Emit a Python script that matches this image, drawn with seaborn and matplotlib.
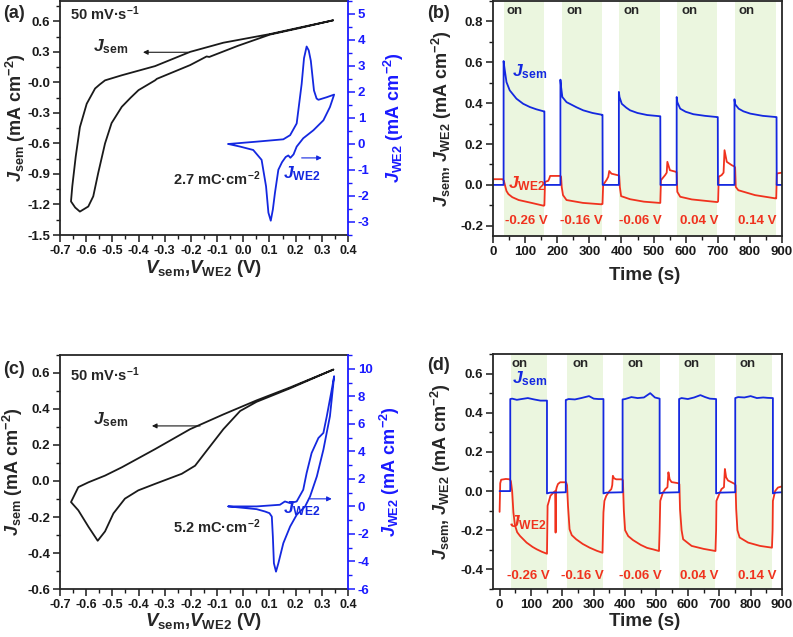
import numpy as np
import matplotlib
matplotlib.use("Agg")
import matplotlib.pyplot as plt
import seaborn as sns
from matplotlib.ticker import MultipleLocator, FormatStrFormatter

# ---------------- data ----------------
# (a) CV of semiconductor electrode and WE2
a_sem_V = [0.343, 0.217, 0.102, -0.076, -0.203, -0.337, -0.464, -0.528, -0.548, -0.566, -0.598, -0.624, -0.640, -0.653,
           -0.658, -0.642, -0.624, -0.592, -0.573, -0.554, -0.528, -0.503, -0.464, -0.430, -0.400, -0.337, -0.330,
           -0.203, -0.140, -0.130, -0.020, 0.102, 0.217, 0.343]
a_sem_J = [0.61, 0.54, 0.475, 0.39, 0.30, 0.16, 0.07, 0.02, -0.02, -0.06, -0.21, -0.44, -0.73, -1.02,
           -1.17, -1.23, -1.27, -1.22, -1.12, -0.89, -0.60, -0.40, -0.24, -0.15, -0.076, 0.02, 0.035,
           0.17, 0.255, 0.25, 0.36, 0.47, 0.535, 0.61]
a_we2_V = [-0.057, 0.051, 0.153, 0.179, 0.204, 0.223, 0.232, 0.242, 0.250, 0.258, 0.270, 0.280, 0.287, 0.319,
           0.347, 0.331, 0.306, 0.268, 0.229, 0.204, 0.192, 0.180, 0.172, 0.162, 0.148, 0.134, 0.121, 0.113,
           0.105, 0.096, 0.087, 0.070, 0.038, -0.012, -0.057]
a_we2_J = [0.0, 0.09, 0.18, 0.34, 0.79, 2.31, 3.3, 3.75, 3.6, 3.2, 2.06, 1.75, 1.70, 1.80,
           1.90, 1.42, 0.91, 0.53, 0.22, -0.10, -0.40, -0.53, -0.44, -0.50, -0.70, -0.99, -1.88, -2.52,
           -2.95, -2.64, -1.63, -0.61, -0.23, -0.10, 0.0]

# (c) CV
c_sem_V = [0.344, 0.179, 0.051, -0.076, -0.203, -0.337, -0.464, -0.528, -0.591, -0.630, -0.658, -0.630, -0.591,
           -0.556, -0.528, -0.496, -0.452, -0.401, -0.337, -0.235, -0.184, -0.140, -0.076, -0.012, 0.051, 0.179, 0.344]
c_sem_J = [0.619, 0.52, 0.448, 0.37, 0.288, 0.177, 0.076, 0.03, -0.007, -0.034, -0.117, -0.163, -0.255,
           -0.332, -0.28, -0.18, -0.098, -0.052, -0.016, 0.04, 0.085, 0.168, 0.288, 0.389, 0.44, 0.515, 0.619]
c_we2_V = [-0.057, 0.051, 0.140, 0.159, 0.179, 0.204, 0.229, 0.242, 0.261, 0.287, 0.306, 0.319, 0.338, 0.347,
           0.331, 0.306, 0.281, 0.255, 0.236, 0.204, 0.179, 0.153, 0.134, 0.125, 0.117, 0.113, 0.109, 0.100,
           0.083, 0.051, -0.057]
c_we2_J = [0.0, 0.0, 0.12, 0.36, 0.24, 0.36, 1.21, 2.43, 3.88, 4.97, 5.34, 6.55, 8.49, 9.46,
           6.55, 4.12, 2.18, 0.72, -0.01, -0.61, -1.46, -2.67, -4.13, -4.74, -4.13, -2.19, -0.74, -0.49,
           -0.37, -0.2, 0.0]

# (b) chronoamperometry
b_sem_t = [0, 33, 33, 35, 42, 52, 73, 94, 115, 135, 158, 160, 160.5, 210, 210, 212, 216, 229, 239, 260, 281, 310,
           340, 341, 341.5, 392, 392, 394, 401, 415, 427, 450, 480, 520, 521, 521.5, 572, 572, 574, 583, 600, 624,
           660, 698, 700, 700.5, 752, 752, 754, 765, 780, 801, 840, 882, 883, 883.5, 900]
b_sem_J = [0, 0, 0.606, 0.58, 0.503, 0.463, 0.422, 0.397, 0.381, 0.37, 0.36, 0.36, 0, 0, 0.515, 0.48, 0.43, 0.405,
           0.397, 0.38, 0.365, 0.352, 0.343, 0.343, 0, 0, 0.455, 0.43, 0.397, 0.378, 0.365, 0.352, 0.342, 0.336,
           0.336, 0, 0, 0.43, 0.405, 0.373, 0.358, 0.346, 0.338, 0.332, 0.332, 0, 0, 0.419, 0.395, 0.373, 0.36,
           0.349, 0.338, 0.332, 0.332, 0, 0]
b_we2_t = [0, 30, 34, 37, 42, 48, 60, 80, 120, 158, 160, 162, 172, 175, 178, 210, 212, 214, 218, 229, 280, 338,
           341, 343, 354, 359, 362, 369, 390, 393, 395, 399, 427, 470, 518, 521, 523, 536, 541, 543, 551, 570,
           572, 574, 583, 619, 692, 699, 701, 703, 712, 718, 721, 728, 744, 752, 754, 756, 764, 816, 880,
           882, 884, 900]
b_we2_J = [0.028, 0.028, 0.02, 0.0, -0.03, -0.045, -0.06, -0.074, -0.088, -0.102, -0.1, 0.015, 0.02, 0.03, 0.044,
           0.044, 0.04, -0.01, -0.05, -0.074, -0.088, -0.095, -0.093, 0.0, 0.025, 0.04, 0.068, 0.055, 0.047,
           0.045, -0.01, -0.055, -0.07, -0.082, -0.088, -0.088, 0.023, 0.048, 0.06, 0.113, 0.072, 0.064,
           0.062, -0.034, -0.058, -0.071, -0.083, -0.084, -0.08, 0.04, 0.048, 0.06, 0.17, 0.113, 0.096, 0.09,
           0.085, -0.01, -0.026, -0.05, -0.066, -0.066, 0.056, 0.06]
b_on_start = [33, 214, 393, 572, 754]
b_on_end = [158, 338, 520, 699, 882]

# (d) chronoamperometry
d_sem_t = [0, 34, 34, 40, 55, 70, 90, 110, 130, 151, 151, 160, 211, 211, 220, 240, 260, 285, 300, 315, 331, 331,
           340, 392, 392, 400, 420, 440, 460, 480, 495, 510, 510, 520, 572, 572, 580, 600, 620, 640, 655, 670,
           690, 690, 700, 751, 751, 760, 780, 800, 820, 840, 855, 871, 871, 880, 900]
d_sem_J = [0, 0, 0.47, 0.472, 0.466, 0.47, 0.475, 0.468, 0.462, 0.462, -0.012, -0.008, -0.006, 0.465, 0.47,
           0.468, 0.475, 0.485, 0.472, 0.47, 0.47, -0.012, -0.008, -0.006, 0.468, 0.47, 0.48, 0.475, 0.478,
           0.5, 0.478, 0.472, -0.012, -0.008, -0.006, 0.47, 0.475, 0.47, 0.478, 0.49, 0.48, 0.472, 0.47,
           -0.012, -0.008, -0.006, 0.475, 0.48, 0.478, 0.485, 0.475, 0.478, 0.476, 0.475, -0.012, -0.008, -0.006]
d_we2_t = [0, 2, 5, 20, 33, 36, 40, 44, 49, 56, 65, 86, 105, 118, 135, 151, 152, 153, 162, 172, 177, 178.5, 180,
           182, 186, 193, 212, 215, 218, 223, 230, 244, 265, 287, 310, 328, 331, 334, 340, 350, 356, 359, 361,
           365, 372, 390, 393, 396, 400, 410, 425, 450, 470, 490, 508, 510, 512, 520, 528, 535, 538, 542, 548,
           570, 573, 575, 580, 585, 600, 612, 650, 688, 690, 691, 700, 707, 715, 718, 722, 728, 749, 752, 754,
           758, 765, 792, 830, 868, 870, 871, 878, 887, 900]
d_we2_J = [-0.106, 0.04, 0.058, 0.062, 0.06, 0.05, 0.0, -0.109, -0.175, -0.21, -0.229, -0.263, -0.285, -0.297,
           -0.31, -0.32, -0.2, -0.075, -0.024, -0.007, 0.0, -0.212, 0.005, 0.019, 0.036, 0.045, 0.045, 0.03,
           -0.075, -0.195, -0.225, -0.246, -0.27, -0.289, -0.305, -0.315, -0.109, -0.05, -0.024, 0.0, 0.01,
           0.03, 0.078, 0.065, 0.06, 0.06, 0.055, -0.1, -0.2, -0.23, -0.25, -0.275, -0.29, -0.298, -0.306,
           -0.2, -0.05, -0.01, 0.01, 0.02, 0.096, 0.06, 0.046, 0.04, 0.035, -0.092, -0.2, -0.246, -0.265,
           -0.28, -0.295, -0.306, -0.2, -0.05, -0.015, 0.01, 0.02, 0.113, 0.07, 0.054, 0.037, 0.03, -0.092,
           -0.2, -0.237, -0.263, -0.28, -0.289, -0.2, -0.05, 0.0, 0.018, 0.024]
d_on_start = [36, 215, 392, 572, 753]
d_on_end = [151, 331, 510, 687, 868]

volt_labels = ["-0.26 V", "-0.16 V", "-0.06 V", "0.04 V", "0.14 V"]
b_volt_x = [104, 276, 458, 643, 822]
d_volt_x = [92, 263, 448, 636, 820]
b_on_x = [68, 255, 430, 612, 791]
d_on_x = [63, 257, 433, 611, 790]

for xs, ys in [(a_sem_V, a_sem_J), (a_we2_V, a_we2_J), (c_sem_V, c_sem_J), (c_we2_V, c_we2_J),
               (b_sem_t, b_sem_J), (b_we2_t, b_we2_J), (d_sem_t, d_sem_J), (d_we2_t, d_we2_J)]:
    assert len(xs) == len(ys), (len(xs), len(ys))

# ---------------- style ----------------
sns.set_theme(style="ticks")
plt.rcParams.update({
    "font.family": ["Liberation Sans", "DejaVu Sans"],
    "font.weight": "bold",
    "axes.labelweight": "bold",
    "axes.unicode_minus": False,
    "mathtext.fontset": "custom",
    "mathtext.rm": "Liberation Sans:bold",
    "mathtext.it": "Liberation Sans:italic:bold",
    "mathtext.bf": "Liberation Sans:bold",
    "axes.linewidth": 1.3,
    "xtick.direction": "out",
    "ytick.direction": "out",
})

BLUE = "#1428e0"
AXBLUE = "#1a1aff"
RED = "#f0321e"
GREEN = "#ebf6df"
TICK_FS = 9.5
YLAB_FS = 13
XLAB_FS = 13.5
ANN_FS = 12.5

W, H = 793, 637
fig = plt.figure(figsize=(W / 100, H / 100), dpi=100)


def rect(l, t, r, b):
    return [l / W, 1 - b / H, (r - l) / W, (b - t) / H]


def line(ax, x, y, color):
    sns.lineplot(x=np.asarray(x, float), y=np.asarray(y, float), ax=ax, sort=False,
                 estimator=None, color=color, lw=1.3, legend=False)


def style_ticks(ax, axis="both", color="k"):
    ax.tick_params(axis=axis, which="major", length=5, width=1.1, labelsize=TICK_FS, colors=color, pad=2)
    ax.tick_params(axis=axis, which="minor", length=3, width=1.0, colors=color)


jsem = r"$J_{\mathrm{sem}}$"
jwe2 = r"$J_{\mathrm{WE2}}$"
unit = r"(mA cm$^{\mathrm{-2}}$)"


def cv_panel(pos, sV, sJ, wV, wJ, ylim_l, ystep_l, ylim_r, ystep_r, ann):
    ax = fig.add_axes(pos)
    line(ax, sV, sJ, "k")
    ax.set_xlim(-0.7, 0.4)
    ax.set_ylim(*ylim_l)
    ax.xaxis.set_major_locator(MultipleLocator(0.1))
    ax.xaxis.set_minor_locator(MultipleLocator(0.05))
    ax.yaxis.set_major_locator(MultipleLocator(ystep_l))
    ax.yaxis.set_minor_locator(MultipleLocator(ystep_l / 2))
    ax.xaxis.set_major_formatter(FormatStrFormatter("%.1f"))
    ax.yaxis.set_major_formatter(FormatStrFormatter("%.1f"))
    style_ticks(ax)
    ax.tick_params(axis="x", labelsize=9)
    ax.spines["right"].set_visible(False)
    ax2 = ax.twinx()
    line(ax2, wV, wJ, BLUE)
    ax2.set_ylim(*ylim_r)
    ax2.yaxis.set_major_locator(MultipleLocator(ystep_r))
    ax2.yaxis.set_minor_locator(MultipleLocator(ystep_r / 2))
    ax2.yaxis.set_major_formatter(FormatStrFormatter("%d"))
    style_ticks(ax2, "y", AXBLUE)
    ax2.spines["right"].set_color(AXBLUE)
    ax2.spines["right"].set_linewidth(1.3)
    for s in ["top", "left", "bottom"]:
        ax2.spines[s].set_visible(False)
    ax.set_xlabel(r"$V_{\mathrm{sem}}$,$V_{\mathrm{WE2}}$ (V)", fontsize=XLAB_FS)
    ax.set_ylabel(jsem + " " + unit, fontsize=YLAB_FS)
    ax2.set_ylabel(jwe2 + " " + unit, fontsize=YLAB_FS, color=AXBLUE)
    # annotations
    ax.text(-0.662, ann["rate_y"], r"50 mV·s$^{\mathrm{-1}}$", fontsize=10.5, va="baseline", ha="left")
    ax.text(-0.574, ann["jsem_y"], jsem, fontsize=ANN_FS, va="baseline", ha="left")
    ax.annotate("", xy=(ann["arr_x"][1], ann["arr_y"]), xytext=(ann["arr_x"][0], ann["arr_y"]),
                arrowprops=dict(arrowstyle="-|>", color="k", lw=0.8, mutation_scale=7, shrinkA=0, shrinkB=0))
    ax.text(-0.268, ann["q_y"], ann["q"], fontsize=10.5, va="baseline", ha="left")
    ax.text(0.152, ann["jwe_y"], jwe2, fontsize=ANN_FS, va="baseline", ha="left", color=BLUE)
    ax2.annotate("", xy=(ann["barr_x"][1], ann["barr_y"]), xytext=(ann["barr_x"][0], ann["barr_y"]),
                 arrowprops=dict(arrowstyle="-|>", color=BLUE, lw=0.8, mutation_scale=7, shrinkA=0, shrinkB=0))
    return ax, ax2


def ca_panel(pos, sT, sJ, wT, wJ, on_s, on_e, xlim, ylim, on_x, on_y, v_x, v_y, js_pos, jw_pos):
    ax = fig.add_axes(pos)
    for s, e in zip(on_s, on_e):
        ax.axvspan(s, e, color=GREEN, lw=0, zorder=0)
    line(ax, wT, wJ, RED)
    line(ax, sT, sJ, BLUE)
    ax.set_xlim(*xlim)
    ax.set_ylim(*ylim)
    ax.xaxis.set_major_locator(MultipleLocator(100))
    ax.xaxis.set_minor_locator(MultipleLocator(50))
    ax.yaxis.set_major_locator(MultipleLocator(0.2))
    ax.yaxis.set_minor_locator(MultipleLocator(0.1))
    ax.yaxis.set_major_formatter(FormatStrFormatter("%.1f"))
    style_ticks(ax)
    for x in on_x:
        ax.text(x, on_y, "on", fontsize=9.5, ha="center", va="baseline")
    for x, lab in zip(v_x, volt_labels):
        ax.text(x, v_y, lab, fontsize=9.5, ha="center", va="baseline", color=RED)
    ax.text(js_pos[0], js_pos[1], jsem, fontsize=ANN_FS, ha="left", va="baseline", color=BLUE)
    ax.text(jw_pos[0], jw_pos[1], jwe2, fontsize=ANN_FS, ha="left", va="baseline", color=RED)
    ax.set_xlabel("Time (s)", fontsize=XLAB_FS)
    ax.set_ylabel(jsem + ", " + jwe2 + " " + unit, fontsize=YLAB_FS)
    return ax


# (a)
axA, axA2 = cv_panel(rect(60, 1, 348, 235), a_sem_V, a_sem_J, a_we2_V, a_we2_J,
                     (-1.5, 0.8), 0.3, (-3.5, 5.5), 1,
                     dict(rate_y=0.61, jsem_y=0.31, arr_x=(-0.211, -0.383), arr_y=0.296,
                          q=r"2.7 mC·cm$^{\mathrm{-2}}$", q_y=-1.008, jwe_y=-0.942,
                          barr_x=(0.223, 0.30), barr_y=-0.535))
axA.xaxis.set_label_coords(0.5, -0.098)
axA.yaxis.set_label_coords(-0.112, 0.5)
axA2.yaxis.set_label_coords(1.118, 0.5)

# (c)
axC, axC2 = cv_panel(rect(60, 355, 348, 589), c_sem_V, c_sem_J, c_we2_V, c_we2_J,
                     (-0.6, 0.7), 0.2, (-6, 11), 2,
                     dict(rate_y=0.554, jsem_y=0.315, arr_x=(-0.165, -0.349), arr_y=0.306,
                          q=r"5.2 mC·cm$^{\mathrm{-2}}$", q_y=-0.291, jwe_y=-0.181,
                          barr_x=(0.255, 0.338), barr_y=0.55))
axC.xaxis.set_label_coords(0.5, -0.095)
axC.yaxis.set_label_coords(-0.12, 0.5)
axC2.yaxis.set_label_coords(1.103, 0.5)

# (b)
axB = ca_panel(rect(493, 1, 782, 236), b_sem_t, b_sem_J, b_we2_t, b_we2_J, b_on_start, b_on_end,
               (0, 900), (-0.25, 0.9), b_on_x, 0.834, b_volt_x, -0.192, (58, 0.531), (46, -0.016))
axB.xaxis.set_label_coords(0.523, -0.13)
axB.yaxis.set_label_coords(-0.135, 0.5)

# (d)
axD = ca_panel(rect(493, 354, 782, 589), d_sem_t, d_sem_J, d_we2_t, d_we2_J, d_on_start, d_on_end,
               (-21, 900), (-0.5, 0.7), d_on_x, 0.634, d_volt_x, -0.448, (39.5, 0.549), (29, -0.186))
axD.xaxis.set_label_coords(0.523, -0.1)
axD.yaxis.set_label_coords(-0.14, 0.5)

# panel letters
for x, y, t in [(3, 5, "(a)"), (427, 5, "(b)"), (3, 361, "(c)"), (427, 357, "(d)")]:
    fig.text(x / W, 1 - y / H, t, fontsize=13, fontweight="bold", ha="left", va="top")

fig.savefig("out.png", dpi=100)
